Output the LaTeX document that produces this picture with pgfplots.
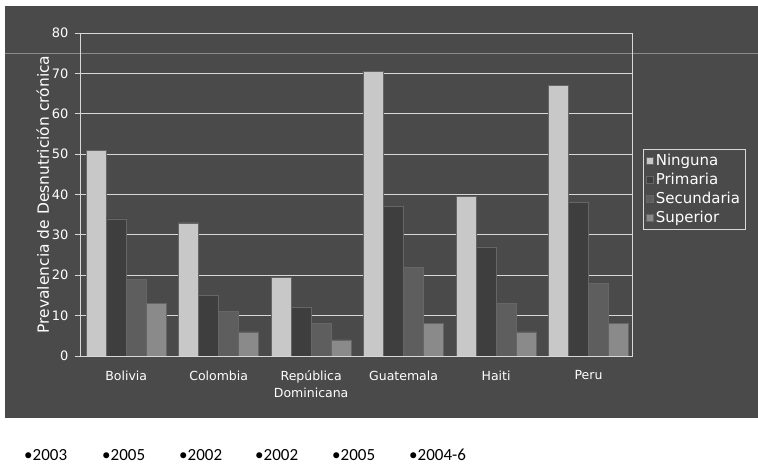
\documentclass[border=0pt]{standalone}
\usepackage{pgfplots}
\pgfplotsset{compat=1.18}
\usepackage{fontspec}
\setmainfont{DejaVu Sans}
\newfontfamily\yearfont{Carlito}
\definecolor{panel}{HTML}{4A4A4A}
\definecolor{gridc}{HTML}{D8D8D8}
\definecolor{cNing}{HTML}{C8C8C8}
\definecolor{cPrim}{HTML}{3E3E3E}
\definecolor{cSec}{HTML}{5E5E5E}
\definecolor{cSup}{HTML}{8A8A8A}
\pgfplotstableread{
x Ninguna Primaria Secundaria Superior
0 51   34 19 13
1 33   15 11 6
2 19.5 12 8  4
3 70.5 37 22 8
4 39.5 27 13 6
5 67   38 18 8
}\datatable
\begin{document}
\begin{tikzpicture}[x=1pt,y=1pt]
\useasboundingbox (0,0) rectangle (758,465);
\fill[white] (0,0) rectangle (758,465);
\fill[panel] (5,47) rectangle (758,459);
\begin{axis}[
  at={(80pt,109pt)}, anchor=south west,
  scale only axis, width=552pt, height=323pt,
  xmin=-0.5, xmax=5.47, ymin=0, ymax=80,
  ybar=0pt, bar width=20pt,
  ytick={0,10,...,80},
  xtick={0,...,5},
  xticklabels={Bolivia,Colombia,{República\\Dominicana},Guatemala,Haiti,Peru},
  xtick style={draw=none},
  xticklabel style={align=center, text=white, font=\fontsize{12.5}{17}\selectfont, yshift=-6pt},
  yticklabel style={text=white, font=\fontsize{13}{14}\selectfont, xshift=-3pt},
  /pgf/number format/assume math mode=true,
  ytick pos=left, tick align=outside, major tick length=5pt,
  ytick style={gridc, line width=0.8pt},
  ymajorgrids, grid style={gridc, line width=0.9pt},
  axis line style={gridc, line width=0.9pt},
  axis background/.style={fill=panel},
  ylabel={Prevalencia de Desnutrición crónica},
  ylabel style={text=white, font=\fontsize{15.5}{16}\selectfont, yshift=-4pt},
  legend style={at={(axis description cs:1.0199,0.641)}, anchor=north west,
    fill=panel, draw=gridc, text=white, font=\fontsize{15}{16}\selectfont,
    inner sep=3pt, row sep=2pt, line width=0.8pt},
  legend cell align=left,
  area legend,
  legend image code/.code={\fill[#1] (0pt,-3.5pt) rectangle (7pt,3.5pt);},
]
\addplot[fill=cNing, draw=black!60, line width=0.4pt] table[x=x,y=Ninguna]{\datatable};
\addplot[fill=cPrim, draw=black!60, line width=0.4pt] table[x=x,y=Primaria]{\datatable};
\addplot[fill=cSec, draw=black!60, line width=0.4pt] table[x=x,y=Secundaria]{\datatable};
\addplot[fill=cSup, draw=black!60, line width=0.4pt] table[x=x,y=Superior]{\datatable};
\legend{Ninguna,Primaria,Secundaria,Superior}
\end{axis}
\draw[gridc, opacity=0.45, line width=0.8pt] (5,412) -- (758,412);
\begin{scope}[every node/.style={anchor=west, inner sep=0pt, font=\yearfont\fontsize{17}{18}\selectfont}]
\node at (24,10) {•2003};
\node at (102,10) {•2005};
\node at (179,10) {•2002};
\node at (255,10) {•2002};
\node at (332,10) {•2005};
\node at (409,10) {•2004-6};
\end{scope}
\end{tikzpicture}
\end{document}
